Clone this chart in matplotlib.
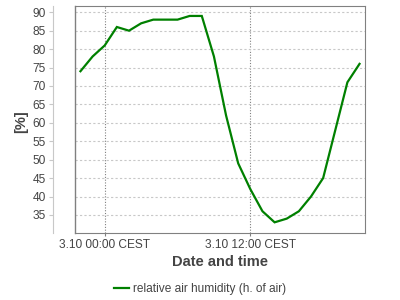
import matplotlib
matplotlib.use('Agg')
import matplotlib.pyplot as plt

plt.rcParams['font.family'] = ['Liberation Sans', 'DejaVu Sans']

# hours relative to 3.10 00:00 CEST
hours = [-2, -1, 0, 1, 2, 3, 4, 5, 6, 7, 8, 9, 10, 11,
         12, 13, 14, 15, 16, 17, 18, 19, 20, 21]
humidity = [74, 78, 81, 86, 85, 87, 88, 88, 88, 89, 89, 78, 62, 49,
            42, 36, 33, 34, 36, 40, 45, 58, 71, 76]
yticks = [35, 40, 45, 50, 55, 60, 65, 70, 75, 80, 85, 90]
xticks = [0, 12]
xlabels = ['3.10 00:00 CEST', '3.10 12:00 CEST']
series_name = 'relative air humidity (h. of air)'

text_col = '#444444'
fig = plt.figure(figsize=(4, 3), dpi=100)
ax = fig.add_axes([75/400, 1 - 233/300, 290/400, 227/300])

ax.plot(hours, humidity, color='#008000', lw=1.6, label=series_name,
        solid_joinstyle='miter', zorder=3)

ax.set_xlim(-2.45, 21.45)
ax.set_ylim(30.1, 91.7)
ax.set_yticks(yticks)
ax.set_xticks(xticks)
ax.set_xticklabels(xlabels)

# grid lines
ax.yaxis.grid(True, color='#c8c8c8', linestyle=(0, (2, 2)), lw=0.8)
ax.xaxis.grid(True, color='#808080', linestyle=(0, (1, 1.5)), lw=0.8)

# frame
for s in ['top', 'right', 'bottom']:
    ax.spines[s].set_color('#808080')
ax.spines['left'].set_position(('outward', 22 * 0.72))
ax.spines['left'].set_color('#c8c8c8')
ax.plot([0, 0], [0, 1], transform=ax.transAxes, color='#808080', lw=1,
        clip_on=False, zorder=4)

ax.tick_params(axis='y', length=3, width=0.8, color='#c8c8c8',
               labelsize=8.6, labelcolor=text_col, pad=2)
ax.tick_params(axis='x', length=2, width=0.8, color='#808080',
               labelsize=8.6, labelcolor=text_col, pad=2)

ax.set_xlabel('Date and time', fontsize=10.5, weight='bold', color=text_col)
ax.xaxis.set_label_coords(0.5, -0.095)
fig.text(21/400, 1 - 122/300, '[%]', rotation=90, ha='center', va='center',
         fontsize=10.5, weight='bold', color=text_col)

fig.legend(loc='center', bbox_to_anchor=(0.5, 1 - 289/300), frameon=False,
           fontsize=8.6, handlelength=1.3, handletextpad=0.35,
           labelcolor=text_col)

fig.savefig('out.png', dpi=100)
